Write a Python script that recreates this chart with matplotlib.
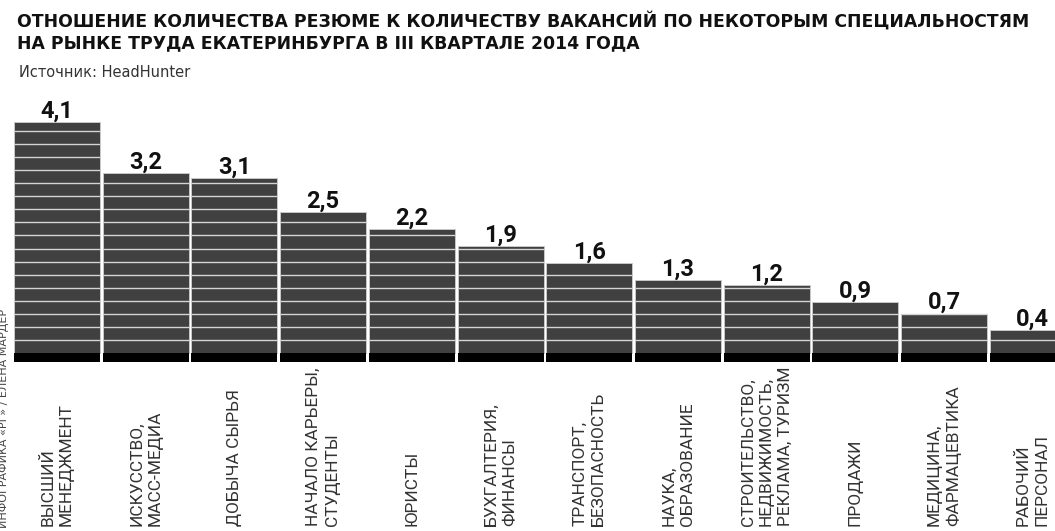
import matplotlib.pyplot as plt
import matplotlib.transforms as mtransforms
import numpy as np

categories = [
    'ВЫСШИЙ\nМЕНЕДЖМЕНТ',
    'ИСКУССТВО,\nМАСС-МЕДИА',
    'ДОБЫЧА СЫРЬЯ',
    'НАЧАЛО КАРЬЕРЫ,\nСТУДЕНТЫ',
    'ЮРИСТЫ',
    'БУХГАЛТЕРИЯ,\nФИНАНСЫ',
    'ТРАНСПОРТ,\nБЕЗОПАСНОСТЬ',
    'НАУКА,\nОБРАЗОВАНИЕ',
    'СТРОИТЕЛЬСТВО,\nНЕДВИЖИМОСТЬ,\nРЕКЛАМА, ТУРИЗМ',
    'ПРОДАЖИ',
    'МЕДИЦИНА,\nФАРМАЦЕВТИКА',
    'РАБОЧИЙ\nПЕРСОНАЛ',
]
values = [4.1, 3.2, 3.1, 2.5, 2.2, 1.9, 1.6, 1.3, 1.2, 0.9, 0.7, 0.4]
value_labels = ['4,1', '3,2', '3,1', '2,5', '2,2', '1,9', '1,6', '1,3', '1,2', '0,9', '0,7', '0,4']

title = ('ОТНОШЕНИЕ КОЛИЧЕСТВА РЕЗЮМЕ К КОЛИЧЕСТВУ ВАКАНСИЙ ПО НЕКОТОРЫМ СПЕЦИАЛЬНОСТЯМ\n'
         'НА РЫНКЕ ТРУДА ЕКАТЕРИНБУРГА В III КВАРТАЛЕ 2014 ГОДА')
source = 'Источник: HeadHunter'
credit = 'ИНФОГРАФИКА «РГ» / ЕЛЕНА МАРДЕР'

W, H = 1055, 531
px_unit = 56.3          # пикселей на единицу
pitch = 88.7            # шаг столбцов в пикселях
base_h = 9 / px_unit    # черная подложка
stripe = 0.232          # шаг белых полос

fig = plt.figure(figsize=(W / 100, H / 100), dpi=100)
ax = fig.add_axes([0, (H - 362) / H, 1, (362 - 90) / H])
ax.set_xlim(-57 / pitch, (W - 57) / pitch)
ax.set_ylim(-base_h, (353 - 90) / px_unit)
ax.axis('off')

x = np.arange(len(values))
w = 86 / pitch
ax.bar(x, values, width=w, color='#404040', edgecolor='#c8c8c8', linewidth=0.7)
ax.bar(x, base_h, bottom=-base_h, width=w, color='black', linewidth=0)

for xi, v, lab in zip(x, values, value_labels):
    levels = np.arange(stripe, v, stripe)
    ax.hlines(levels, xi - w / 2, xi + w / 2, color='#d4d4d4', linewidth=1.0)
    ax.text(xi, v + 4.5 / px_unit, lab, ha='center', va='baseline',
            fontsize=17, fontweight='bold', family=['Roboto', 'DejaVu Sans'],
            color='#111111')

trans = mtransforms.blended_transform_factory(ax.transData, fig.transFigure)
for xi, cat in zip(x, categories):
    fig.text(xi, (H - 526) / H, cat, transform=trans, rotation=90,
             ha='center', va='bottom', multialignment='left',
             fontsize=12.5, family=['Roboto', 'DejaVu Sans'], fontweight='normal',
             color='#333333', linespacing=1.3)

fig.text(17 / W, 1 - 12 / H, title, ha='left', va='top', fontsize=12.4,
         fontweight='bold', family=['DejaVu Sans'], color='#111111', linespacing=1.25)
fig.text(19 / W, 1 - 65 / H, source, ha='left', va='top', fontsize=10.5,
         family=['DejaVu Sans'], color='#333333')
fig.text(4 / W, (H - 528) / H, credit, rotation=90, ha='center', va='bottom',
         fontsize=8, family=['DejaVu Sans'], color='#444444')

fig.savefig('out.png', dpi=100)
